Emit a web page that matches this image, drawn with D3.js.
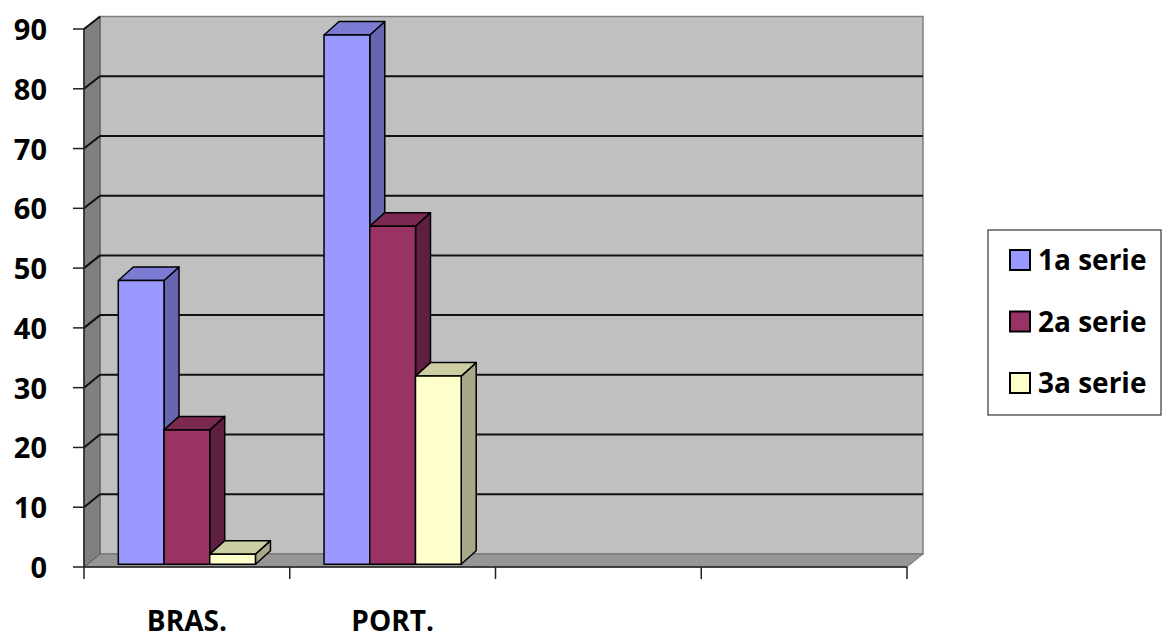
<!DOCTYPE html>
<html>
<head>
<meta charset="utf-8">
<script src="https://cdn.jsdelivr.net/npm/d3@7"></script>
<style>
  html, body { margin: 0; padding: 0; background: #fff; }
  svg { display: block; }
  text { font-family: "Open Sans", "Liberation Sans", sans-serif; font-weight: bold; fill: #000; }
</style>
</head>
<body>
<svg id="chart" width="1163" height="639"></svg>
<script>
// ---- data ----
const categories = ["BRAS.", "PORT.", "", ""];
const seriesNames = ["1a serie", "2a serie", "3a serie"];
const serie1 = [47.5, 88.6];
const serie2 = [22.5, 56.6];
const serie3 = [1.7, 31.5];
const yTicks = [0, 10, 20, 30, 40, 50, 60, 70, 80, 90];

const seriesValues = [serie1, serie2, serie3];
const faceColors = ["#9999FF", "#993366", "#FFFFCC"];
const topColors  = ["#7B7BD3", "#7C2952", "#CDCDA4"];
const sideColors = ["#6666B0", "#5E1F40", "#A8A888"];

const svg = d3.select("#chart");

// geometry
const frontLeft = 84, frontRight = 907;
const depthDx = 16, depthDy = -13;
const yFront = d3.scaleLinear().domain([0, 90]).range([567, 29]);
const yBack  = d3.scaleLinear().domain([0, 90]).range([554, 16.5]);
const yBar   = d3.scaleLinear().domain([0, 90]).range([564.3, 26.6]);
const barDx = 15, barDy = -13.5;

const x = d3.scaleBand().domain(d3.range(categories.length)).range([frontLeft, frontRight]).padding(0);
const bw = x.bandwidth() / 4.5;

// back wall
svg.append("rect")
  .attr("x", frontLeft + depthDx).attr("y", yBack(90))
  .attr("width", frontRight - frontLeft).attr("height", yBack(0) - yBack(90))
  .attr("fill", "#C0C0C0").attr("stroke", "#7f7f7f").attr("stroke-width", 1.5);

// floor
svg.append("polygon")
  .attr("points", [[frontLeft, yFront(0)], [frontRight, yFront(0)], [frontRight + depthDx, yBack(0)], [frontLeft + depthDx, yBack(0)]].join(" "))
  .attr("fill", "#969696").attr("stroke", "#6f6f6f").attr("stroke-width", 1);

// left side wall
svg.append("polygon")
  .attr("points", [[frontLeft, yFront(90)], [frontLeft + depthDx, yBack(90)], [frontLeft + depthDx, yBack(0)], [frontLeft, yFront(0)]].join(" "))
  .attr("fill", "#808080").attr("stroke", "#5a5a5a").attr("stroke-width", 1);

// gridlines (back wall + side wall)
const grid = svg.append("g");
yTicks.filter(t => t > 0).forEach(t => {
  if (t < 90) {
    grid.append("line")
      .attr("x1", frontLeft + depthDx).attr("x2", frontRight + depthDx)
      .attr("y1", yBack(t)).attr("y2", yBack(t))
      .attr("stroke", "#111").attr("stroke-width", 2);
  }
  grid.append("line")
    .attr("x1", frontLeft).attr("y1", yFront(t))
    .attr("x2", frontLeft + depthDx).attr("y2", yBack(t))
    .attr("stroke", "#111").attr("stroke-width", 2);
});

// bars
const bars = svg.append("g");
categories.forEach((c, ci) => {
  seriesValues.forEach((vals, si) => {
    const v = vals[ci];
    if (v === undefined) return;
    const x0 = x(ci) + 0.75 * bw + si * bw;
    const x1 = x0 + bw;
    const yt = yBar(v), yb = yBar(0);
    const g = bars.append("g").attr("stroke", "#000").attr("stroke-width", 1.5).attr("stroke-linejoin", "round");
    g.append("polygon")
      .attr("points", [[x1, yt], [x1 + barDx, yt + barDy], [x1 + barDx, yb + barDy], [x1, yb]].join(" "))
      .attr("fill", sideColors[si]);
    g.append("polygon")
      .attr("points", [[x0, yt], [x0 + barDx, yt + barDy], [x1 + barDx, yt + barDy], [x1, yt]].join(" "))
      .attr("fill", topColors[si]);
    g.append("rect")
      .attr("x", x0).attr("y", yt).attr("width", bw).attr("height", yb - yt)
      .attr("fill", faceColors[si]);
  });
});

// front axes
const axisG = svg.append("g").attr("stroke", "#222").attr("stroke-width", 1.5);
axisG.append("line").attr("x1", frontLeft).attr("x2", frontLeft).attr("y1", yFront(90)).attr("y2", yFront(0));
axisG.append("line").attr("x1", frontLeft).attr("x2", frontRight).attr("y1", yFront(0)).attr("y2", yFront(0));
yTicks.forEach(t => {
  axisG.append("line").attr("x1", frontLeft - 11).attr("x2", frontLeft).attr("y1", yFront(t)).attr("y2", yFront(t));
});
d3.range(categories.length + 1).forEach(i => {
  const xx = i < categories.length ? x(i) : frontRight;
  axisG.append("line").attr("x1", xx).attr("x2", xx).attr("y1", yFront(0)).attr("y2", yFront(0) + 12);
});

// y labels
svg.append("g").selectAll("text").data(yTicks).join("text")
  .attr("x", 47).attr("y", d => yFront(d) + 11)
  .attr("text-anchor", "end")
  .attr("font-size", 29)
  .text(d => d);

// category labels
svg.append("g").selectAll("text").data(categories).join("text")
  .attr("x", (d, i) => x(i) + x.bandwidth() / 2)
  .attr("y", 631)
  .attr("text-anchor", "middle")
  .attr("font-size", 28)
  .text(d => d);

// legend
const lg = svg.append("g");
lg.append("rect").attr("x", 988).attr("y", 230).attr("width", 173).attr("height", 185)
  .attr("fill", "#fff").attr("stroke", "#333").attr("stroke-width", 1.2);
seriesNames.forEach((n, i) => {
  const cy = 260 + i * 61.5;
  lg.append("rect").attr("x", 1010).attr("y", cy - 10).attr("width", 20).attr("height", 20)
    .attr("fill", faceColors[i]).attr("stroke", "#000").attr("stroke-width", 2);
  lg.append("text").attr("x", 1038).attr("y", cy + 10).attr("font-size", 28).text(n);
});
</script>
</body>
</html>
